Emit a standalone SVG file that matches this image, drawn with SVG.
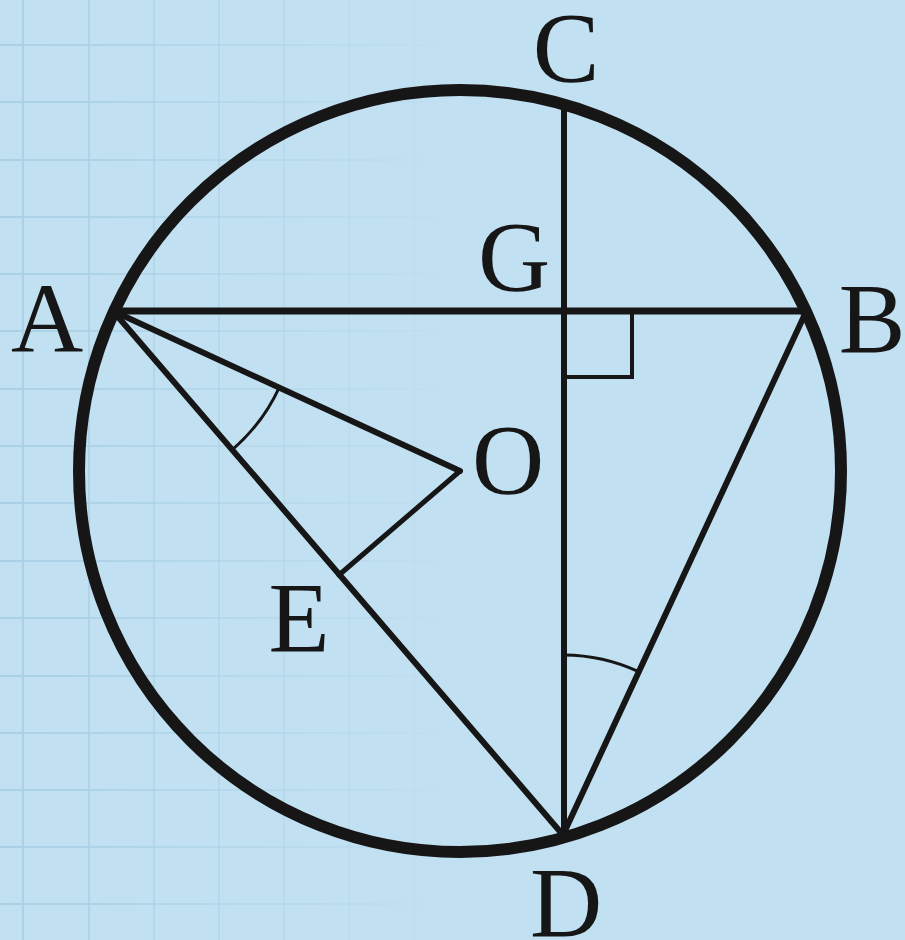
<svg xmlns="http://www.w3.org/2000/svg" width="905" height="940" viewBox="0 0 905 940">
  <defs>
    <linearGradient id="hfade" gradientUnits="userSpaceOnUse" x1="0" y1="0" x2="460" y2="0">
      <stop offset="0" stop-color="#a9d0e5" stop-opacity="1"/>
      <stop offset="1" stop-color="#a9d0e5" stop-opacity="0"/>
    </linearGradient>
    <style>
      .ln { stroke: #161616; fill: none; stroke-linecap: round; stroke-linejoin: miter; }
      .lbl { font-family: "Liberation Serif", "Times New Roman", serif; font-size: 100px; fill: #161616; text-anchor: middle; }
      .vg { stroke: #a9d0e5; stroke-width: 2; }
      .hg { stroke: url(#hfade); stroke-width: 2; }
    </style>
  </defs>
  <rect x="0" y="0" width="905" height="940" fill="#c1e0f2"/>
  <g id="grid">
    <line class="vg" x1="23" y1="0" x2="23" y2="940" opacity="0.9"/>
    <line class="vg" x1="89" y1="0" x2="89" y2="940" opacity="0.75"/>
    <line class="vg" x1="154" y1="0" x2="154" y2="940" opacity="0.6"/>
    <line class="vg" x1="219" y1="0" x2="219" y2="940" opacity="0.45"/>
    <line class="vg" x1="284" y1="0" x2="284" y2="940" opacity="0.32"/>
    <line class="vg" x1="349" y1="0" x2="349" y2="940" opacity="0.2"/>
    <line class="vg" x1="414" y1="0" x2="414" y2="940" opacity="0.1"/>
    <line class="hg" x1="0" y1="45" x2="460" y2="45"/>
    <line class="hg" x1="0" y1="102" x2="460" y2="102"/>
    <line class="hg" x1="0" y1="160" x2="460" y2="160"/>
    <line class="hg" x1="0" y1="217" x2="460" y2="217"/>
    <line class="hg" x1="0" y1="274" x2="460" y2="274"/>
    <line class="hg" x1="0" y1="331" x2="460" y2="331"/>
    <line class="hg" x1="0" y1="389" x2="460" y2="389"/>
    <line class="hg" x1="0" y1="446" x2="460" y2="446"/>
    <line class="hg" x1="0" y1="503" x2="460" y2="503"/>
    <line class="hg" x1="0" y1="561" x2="460" y2="561"/>
    <line class="hg" x1="0" y1="618" x2="460" y2="618"/>
    <line class="hg" x1="0" y1="676" x2="460" y2="676"/>
    <line class="hg" x1="0" y1="733" x2="460" y2="733"/>
    <line class="hg" x1="0" y1="790" x2="460" y2="790"/>
    <line class="hg" x1="0" y1="847" x2="460" y2="847"/>
    <line class="hg" x1="0" y1="904" x2="460" y2="904"/>
  </g>
  <g id="circle">
    <circle class="ln" cx="460" cy="471" r="381" stroke-width="12"/>
  </g>
  <g id="connectors">
    <line class="ln" x1="113" y1="311" x2="806" y2="311" stroke-width="7"/>
    <line class="ln" x1="564" y1="104" x2="564" y2="835" stroke-width="6"/>
    <line class="ln" x1="113" y1="311" x2="563" y2="835" stroke-width="6"/>
    <line class="ln" x1="113" y1="311" x2="460" y2="471" stroke-width="6"/>
    <line class="ln" x1="460" y1="471" x2="339" y2="575" stroke-width="5"/>
    <line class="ln" x1="563" y1="835" x2="805" y2="314" stroke-width="6"/>
    <path class="ln" d="M564 311 H632 V377 H564" stroke-width="4" stroke-linecap="butt"/>
    <path class="ln" d="M279.2 387.6 A183 183 0 0 1 232.2 449.8" stroke-width="3"/>
    <path class="ln" d="M564 655 A180 180 0 0 1 638.7 671.7" stroke-width="3"/>
  </g>
  <g id="labels">
    <text class="lbl" x="566" y="81">C</text>
    <text class="lbl" x="514" y="290">G</text>
    <text class="lbl" x="47" y="352">A</text>
    <text class="lbl" x="872" y="352">B</text>
    <text class="lbl" x="508" y="493">O</text>
    <text class="lbl" x="299" y="651">E</text>
    <text class="lbl" x="566" y="936">D</text>
  </g>
</svg>
